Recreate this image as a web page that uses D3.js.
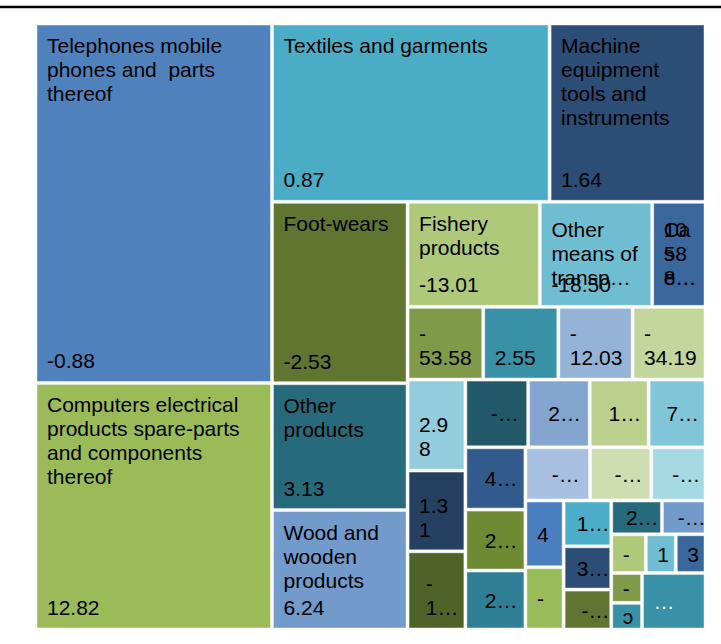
<html>
<head>
<script src="https://d3js.org/d3.v7.min.js"></script>
<style>
body { margin: 0; background: #fff; }
g.cell text { font-family: "Liberation Sans", Arial, Helvetica, sans-serif; font-size: 21px; fill: #000; white-space: pre; }
</style>
</head>
<body>
<svg id="chart"></svg>
<script>
// Category names (as wrapped in the picture), "" where the cell shows only a value
var names = [
	"Telephones mobile\nphones and  parts\nthereof",
	"Computers electrical\nproducts spare-parts\nand components\nthereof",
	"Textiles and garments",
	"Machine\nequipment\ntools and\ninstruments",
	"Foot-wears",
	"Other\nproducts",
	"Wood and\nwooden\nproducts",
	"Fishery\nproducts",
	"Other\nmeans of\ntransp…",
	"Ca\ns\ne…",
	"", "", "", "", "", "", "", "", "", "", "", "", "", "", "", "", "", "", "", "",
	"", "", "", "", "", "", "", "", "", ""
];
// growth labels as shown (Excel truncates the small ones)
var growth = [
	"-0.88", "12.82", "0.87", "1.64", "-2.53", "3.13", "6.24", "-13.01", "-18.50", "10\n58\n8…",
	"-\n53.58", "2.55", "-\n12.03", "-\n34.19",
	"2.9\n8", "1.3\n1", "-\n1…",
	"-…", "2…", "1…", "7…",
	"4…", "2…", "2…",
	"-…", "-…", "-…",
	"4", "-",
	"1…", "3…", "-…",
	"2…", "-…",
	"-", "1", "3",
	"-", "ↄ",
	"…"
];
// tile sizes (read from the areas)
var sizes = [
	850, 583, 495, 278, 246, 172, 162, 139, 118, 56,
	55, 54.6, 54, 53,
	52.6, 46.7, 45.2,
	42.5, 41.7, 39.9, 38.5,
	37.4, 36.6, 35.4,
	34.4, 32.6, 28.9,
	25.5, 23.8,
	21.8, 20.6, 19,
	17.1, 14.7,
	13.4, 11.6, 11.5,
	9.2, 8.2,
	35.9
];
var colors = [
	"#4F81BD", "#9BBB59", "#4BACC6", "#2C4D75", "#5F7530", "#276A7C", "#729ACA", "#AFC97A", "#6FBDD1", "#3A679C",
	"#7F9A48", "#3891A7", "#95B3D7", "#C3D69B",
	"#93CDDD", "#254061", "#4F6228",
	"#215968", "#84A5D0", "#BCD08E", "#80C6D8",
	"#335A8C", "#6E8B34", "#2F7F96",
	"#A7C0E0", "#CEDEB0", "#A5DAE5",
	"#4A7EBE", "#9ABB59",
	"#4BADC8", "#2C4D75", "#5F7530",
	"#276A7C", "#729ACA",
	"#AFC97A", "#6FBDD1", "#3A679C",
	"#7F9A48", "#3891A7",
	"#3891A7"
];
// how many tiles Excel put in each strip (row or column) of its squarified layout
var strips = [2, 2, 3, 3, 4, 3, 4, 3, 3, 2, 3, 2, 3, 2, 1];

var W = 721, H = 644;
var box = { left: 37, top: 25, width: 667, height: 603 };
var lh = 24;

var svg = d3.select("#chart")
	.attr("width", W)
	.attr("height", H);

svg.append("line")
	.attr("x1", 0).attr("x2", W)
	.attr("y1", 7).attr("y2", 7)
	.attr("stroke", "#000")
	.attr("stroke-width", 2.5);

// nest: [strip, rest] -> strip items, rest -> next [strip, rest] ...
function buildTree(k, start) {
	var items = d3.range(start, start + strips[k]).map(function(i) { return { idx: i }; });
	var strip = { children: items };
	if (k == strips.length - 1) { return strip; }
	return { children: [strip, buildTree(k + 1, start + strips[k])] };
}

var root = d3.hierarchy(buildTree(0, 0))
	.sum(function(d) { return d.children ? 0 : sizes[d.idx]; });

d3.treemap()
	.size([box.width, box.height])
	.paddingInner(3)
	.tile(function(node, x0, y0, x1, y1) {
		// split along the longer side, like Excel does
		if (x1 - x0 > y1 - y0) { d3.treemapDice(node, x0, y0, x1, y1); }
		else { d3.treemapSlice(node, x0, y0, x1, y1); }
	})(root);

var g = svg.append("g")
	.attr("transform", "translate(" + box.left + "," + box.top + ")");

var cell = g.selectAll(".cell")
	.data(root.leaves())
	.enter().append("g")
	.attr("class", "cell");

cell.append("rect")
	.attr("x", function(d) { return d.x0; })
	.attr("y", function(d) { return d.y0; })
	.attr("width", function(d) { return d.x1 - d.x0; })
	.attr("height", function(d) { return d.y1 - d.y0; })
	.attr("fill", function(d) { return colors[d.data.idx]; })
	.attr("stroke", "rgba(255,255,255,0.45)")
	.attr("stroke-width", 1);

cell.each(function(d) {
	var i = d.data.idx;
	var h = d.y1 - d.y0;
	var cx = (d.x0 + d.x1) / 2, cy = (d.y0 + d.y1) / 2;
	var text = d3.select(this).append("text");
	if (growth[i] == "…") { text.style("fill", "#fff"); }

	if (names[i]) {
		var nl = names[i].split("\n");
		var vl = growth[i].split("\n");
		var top = d.y0 + 28;
		// name does not fit above the value: Excel pushes the block down a bit
		if (top + (nl.length - 1) * lh > d.y1 - 13 - lh) { top = d.y0 + 34; }
		nl.forEach(function(l, k) {
			text.append("tspan").attr("x", d.x0 + 10).attr("y", top + k * lh).text(l);
		});
		vl.forEach(function(l, k) {
			var y = vl.length > 1 ? top + k * lh : d.y1 - 13;
			text.append("tspan").attr("x", d.x0 + 10).attr("y", y).text(l);
		});
		return;
	}

	var lines = growth[i].split("\n");
	var trunc = growth[i].length > 1 && growth[i].slice(-1) == "…";
	var bottom = lines.length > 1 || (h >= 66 && !trunc);
	var yLast = bottom ? d.y1 - 13 : cy + 8;
	var spans = lines.map(function(l, k) {
		return text.append("tspan")
			.attr("x", d.x0 + 10)
			.attr("y", yLast - (lines.length - 1 - k) * lh)
			.text(l);
	});
	if (trunc) {
		var wmax = d3.max(spans, function(s) { return s.node().getComputedTextLength(); });
		spans.forEach(function(s) { s.attr("x", cx + 22 - wmax); });
	}
});
</script>
</body>
</html>
